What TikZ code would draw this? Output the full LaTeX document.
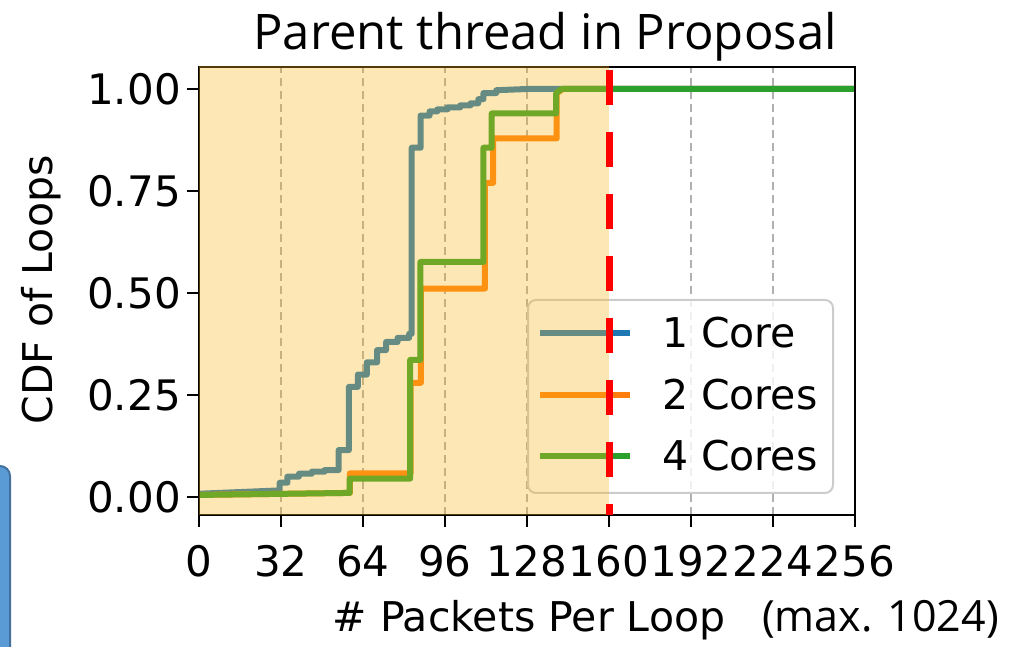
\documentclass[tikz,border=0pt]{standalone}
\usepackage{fontspec}
\setmainfont{DejaVu Sans}
\newfontfamily\uifont{Open Sans}
\definecolor{coreone}{RGB}{31,119,180}
\definecolor{coretwo}{RGB}{255,127,14}
\definecolor{corefour}{RGB}{44,160,44}
\definecolor{zoneshade}{RGB}{248,182,29}
\definecolor{gridgray}{RGB}{176,176,176}
\definecolor{legedge}{RGB}{204,204,204}
\definecolor{boxblue}{RGB}{91,155,213}
\definecolor{boxedge}{RGB}{65,113,156}

\begin{document}
\begin{tikzpicture}[x=1pt,y=1pt,
  curve/.style={line width=6pt, line join=round},
  tickmark/.style={line width=2.5pt},
  ticklab/.style={font=\fontsize{42}{44}\selectfont, inner sep=0pt},
  labeltext/.style={font=\fontsize{41}{43}\selectfont, inner sep=0pt},
  gridline/.style={gridgray, line width=2pt, dash pattern=on 8pt off 5pt},
  uitext/.style={font=\uifont\fontsize{#1}{#1}\selectfont, inner sep=0pt},
]
\useasboundingbox (0,0) rectangle (1020,647);
\clip (0,0) rectangle (1020,647);

% edge of a neighbouring shape on the left
\draw[fill=boxblue, draw=boxedge, line width=2pt, rounded corners=10pt]
  (-40,-20) rectangle (10,181);

% vertical grid
\foreach \i in {1,2,3,4,6,7}
  \draw[gridline] (199+82*\i,132) -- (199+82*\i,580);

% CDF curves (data coordinates: packets, fraction)
\begin{scope}[shift={(199pt,150pt)}, x=2.5625pt, y=408pt]
\draw[curve, coreone] (0,0.008) -- (31,0.016) -| (31.5,0.035) -| (34.5,0.05)
  -| (39,0.057) -| (44,0.062) -| (49,0.066) -| (54.5,0.115) -| (58.5,0.27)
  -| (62,0.30) -| (65.5,0.33) -| (69.5,0.36) -| (73,0.38) -| (77.5,0.39)
  -| (82,0.40) -| (83,0.856) -| (86.5,0.935) -| (90,0.945) -| (93,0.95)
  -| (97,0.955) -| (102,0.96) -| (106,0.965) -| (109,0.975) -| (111,0.99)
  -| (116,0.997) -- (128,1) -- (256,1);
\draw[curve, coretwo] (0,0.005) -- (58.7,0.01) -| (58.9,0.058) -| (82.6,0.28)
  -| (86.6,0.511) -| (111.6,0.77) -| (114.8,0.879) -| (139.6,0.99)
  -- (142,1) -- (256,1);
\draw[curve, corefour] (0,0.005) -- (58.5,0.01) -| (58.8,0.045) -| (82.4,0.336)
  -| (86.4,0.576) -| (111,0.856) -| (114.2,0.94) -| (139.4,0.99)
  -- (141.5,1) -- (256,1);
\end{scope}

% legend
\draw[legedge, line width=2pt, fill=white, fill opacity=0.8, rounded corners=8pt]
  (528,154) rectangle (833,347);
\draw[curve, coreone] (540,314) -- (630,314);
\draw[curve, coretwo] (540,252) -- (630,252);
\draw[curve, corefour] (540,191) -- (630,191);
\node[labeltext, anchor=base west] (leg1) at (662,299) {1 Core};
\node[labeltext, anchor=base west] (leg2) at (662,237) {2 Cores};
\node[labeltext, anchor=base west] (leg4) at (662,176) {4 Cores};

% axes frame, ticks and tick labels
\draw[line width=2.5pt] (199,132) rectangle (855,580);
\foreach \t [count=\k from 0] in {0,32,64,96,128,160,192,224,256} {
  \draw[tickmark] (199+82*\k,132) -- (199+82*\k,120);
  \node[ticklab, anchor=base] (xtick\k) at (199+82*\k,70) {\t};
}
\foreach \v/\t [count=\k] in {150/0.00, 252/0.25, 354/0.50, 456/0.75, 558/1.00} {
  \draw[tickmark] (199,\v) -- (187,\v);
  \node[ticklab, anchor=east] (ytick\k) at (181,\v) {\t};
}

% highlighted range up to 160 packets
\fill[zoneshade, opacity=0.33] (199,132) rectangle (609,581);
\draw[red, line width=7pt, dash pattern=on 35pt off 27pt] (609,577) -- (609,132);

% titles and axis labels
\node[uitext=49, anchor=base] (title) at (545,597) {Parent thread in Proposal};
\node[labeltext, anchor=base, rotate=90] (ylabel) at (52,357) {CDF of Loops};
\node[labeltext, anchor=base] (xlabel) at (529,15) {\# Packets Per Loop};
\node[uitext=43, anchor=base west] (maxnote) at (762,15) {(max. 1024)};
\end{tikzpicture}
\end{document}
